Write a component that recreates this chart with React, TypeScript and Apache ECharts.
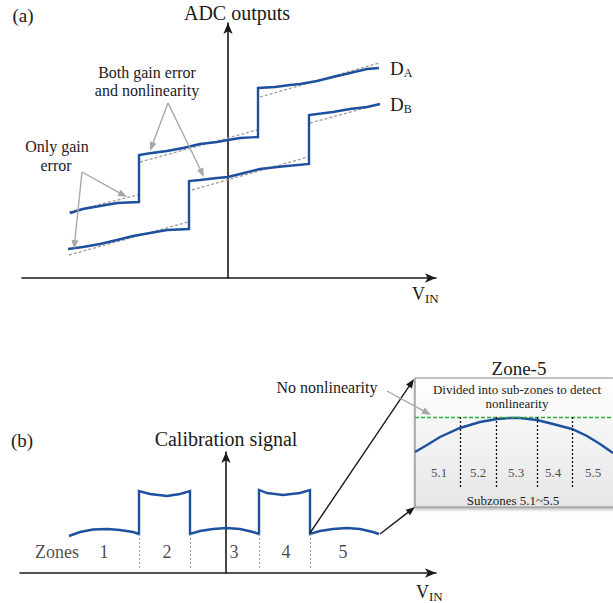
import React, { useEffect, useRef } from "react";
import * as echarts from "echarts";

type Pt = [number, number];

const SERIF = '"Liberation Serif", "Times New Roman", serif';
const INK = "#1a1a1a";
const BLUE = "#1e50a0";
const IDEAL_GRAY = "#9d9d9d";
const NOTE_GRAY = "#a8a8a8";

// (a) ADC transfer characteristics, V_IN = 0 on the vertical axis
const DA_OUTPUT: Pt[] = [
  [-158, 65], [-145, 69], [-128, 72], [-111, 75], [-89, 76],
  [-89, 123], [-78, 124.7], [-61, 127], [-45, 130], [-28, 134], [-11, 136], [0, 138], [12, 140], [30, 141],
  [30, 190], [47, 191], [62, 193], [72, 194], [89, 197], [105, 201], [122, 205], [139, 209], [151, 210],
];
const DB_OUTPUT: Pt[] = [
  [-160, 29], [-145, 31], [-128, 34], [-111, 38], [-95, 42], [-78, 45], [-61, 48], [-39, 49],
  [-39, 97], [-28, 98], [-11, 100], [0, 101], [12, 104], [32, 109], [49, 111], [81, 114],
  [81, 163], [105, 166], [122, 169], [139, 171], [152, 174],
];
// ideal (gain error only) segments
const DA_IDEAL: Pt[][] = [
  [[-159, 66], [-90, 83]],
  [[-88, 116], [29, 148]],
  [[32, 181], [151, 215]],
];
const DB_IDEAL: Pt[][] = [
  [[-159, 23], [-40, 56]],
  [[-36, 88], [80, 121]],
  [[82, 155], [152, 174]],
];

// (b) calibration signal across the five zones
const CAL_SIGNAL: Pt[] = [
  [-157, 37], [-146, 41], [-133, 43.5], [-119, 44], [-106, 43], [-93, 41], [-87, 39],
  [-87, 82], [-76, 79], [-59, 77], [-46, 79], [-36, 82],
  [-36, 39], [-26, 42], [-13, 44], [0, 45], [14, 44], [27, 41], [33, 39],
  [33, 83], [41, 80], [57, 78], [74, 80], [84, 83],
  [84, 39], [94, 42], [107, 44], [121, 45], [134, 44], [147, 41], [153, 39],
];
const ZONE_EDGES = [-87, -36, 33, 84];
const ZONE_NAMES = ["Zones", "1", "2", "3", "4", "5"];
const ZONE_NAME_X = [-169, -122, -59, 8, 60, 117];

// Zone-5 close-up
const ZONE5_SIGNAL: Pt[] = [
  [0, 55], [12, 62], [25, 70], [45, 79], [65, 85], [82, 88], [95, 89], [105, 89],
  [122, 87], [138, 83], [157, 78], [172, 71], [185, 63], [198, 54],
];
const NO_NONLINEARITY_LEVEL = 90;
const SUBZONE_EDGES = [45, 81, 122, 157];
const SUBZONE_NAMES = ["5.1", "5.2", "5.3", "5.4", "5.5"];
const SUBZONE_NAME_X = [24, 63, 101, 138, 178];

function arrow(x1: number, y1: number, x2: number, y2: number, color: string, width = 1.4, len = 9, half = 3.5) {
  const dx = x2 - x1;
  const dy = y2 - y1;
  const d = Math.hypot(dx, dy);
  const ux = dx / d;
  const uy = dy / d;
  const bx = x2 - ux * len;
  const by = y2 - uy * len;
  return [
    { type: "line", z: 100, shape: { x1, y1, x2: bx + ux, y2: by + uy }, style: { stroke: color, lineWidth: width } },
    {
      type: "polygon",
      z: 100,
      shape: { points: [[x2, y2], [bx - uy * half, by + ux * half], [bx + uy * half, by - ux * half]] },
      style: { fill: color },
    },
  ];
}

function label(text: string, x: number, y: number, size: number) {
  return {
    type: "text",
    z: 100,
    x,
    y,
    style: {
      text,
      fill: INK,
      fontSize: size,
      fontFamily: SERIF,
      align: "center",
      verticalAlign: "middle",
      textAlign: "center",
      textVerticalAlign: "middle",
    },
  };
}

function subscripted(main: string, sub: string, x: number, y: number, mainSize: number, subSize: number) {
  return {
    type: "text",
    z: 100,
    x,
    y,
    style: {
      text: `{m|${main}}{s|${sub}}`,
      fill: INK,
      align: "left",
      verticalAlign: "middle",
      textAlign: "left",
      textVerticalAlign: "middle",
      rich: {
        m: { fontSize: mainSize, fontFamily: SERIF, fill: INK, lineHeight: 22 },
        s: { fontSize: subSize, fontFamily: SERIF, fill: INK, lineHeight: 14, verticalAlign: "bottom" },
      },
    },
  };
}

const arrowAxis = (min: number, max: number) => ({
  type: "value",
  min,
  max,
  axisLine: {
    show: true,
    onZero: true,
    symbol: ["none", "arrow"],
    symbolSize: [7, 11],
    lineStyle: { color: INK, width: 1.6 },
  },
  axisTick: { show: false },
  axisLabel: { show: false },
  splitLine: { show: false },
});

const hiddenAxis = (min: number, max: number) => ({ type: "value", min, max, show: false });

const lineSeries = (data: Pt[], idx: number, lineStyle: Record<string, unknown>, z = 3) => ({
  type: "line",
  xAxisIndex: idx,
  yAxisIndex: idx,
  data,
  symbol: "none",
  silent: true,
  z,
  lineStyle,
});

const blueStyle = { color: BLUE, width: 2.4, join: "miter" };
const idealStyle = { color: IDEAL_GRAY, width: 1.3, type: [3, 2] };

export default function App() {
  const ref = useRef<HTMLDivElement>(null);

  useEffect(() => {
    if (!ref.current) return;
    const chart = echarts.init(ref.current, undefined, { renderer: "svg" });

    const option = {
      animation: false,
      backgroundColor: "#ffffff",
      grid: [
        { left: 22, top: 23, width: 414, height: 255 },
        { left: 20, top: 452, width: 416, height: 121 },
        { left: 415, top: 378, width: 198, height: 129 },
      ],
      xAxis: [
        { ...arrowAxis(-206, 208), gridIndex: 0 },
        { ...arrowAxis(-206, 210), gridIndex: 1 },
        { ...hiddenAxis(0, 198), gridIndex: 2 },
      ],
      yAxis: [
        { ...arrowAxis(0, 255), gridIndex: 0 },
        { ...arrowAxis(0, 121), gridIndex: 1 },
        { ...hiddenAxis(0, 129), gridIndex: 2 },
      ],
      series: [
        ...DA_IDEAL.map((seg) => lineSeries(seg, 0, idealStyle, 2)),
        ...DB_IDEAL.map((seg) => lineSeries(seg, 0, idealStyle, 2)),
        lineSeries(DA_OUTPUT, 0, blueStyle),
        lineSeries(DB_OUTPUT, 0, blueStyle),
        {
          ...lineSeries(CAL_SIGNAL, 1, blueStyle),
          markLine: {
            silent: true,
            symbol: ["none", "none"],
            label: { show: false },
            lineStyle: { color: "#a0a0a0", width: 1, type: [2, 2] },
            data: ZONE_EDGES.map((x) => [{ coord: [x, 39] }, { coord: [x, 4] }]),
          },
        },
        {
          type: "scatter",
          xAxisIndex: 1,
          yAxisIndex: 1,
          symbolSize: 0,
          silent: true,
          itemStyle: { color: "transparent" },
          data: ZONE_NAMES.map((n, i) => ({ name: n, value: [ZONE_NAME_X[i], 21] })),
          label: { show: true, position: "inside", formatter: "{b}", color: INK, fontSize: 18, fontFamily: SERIF },
          z: 5,
        },
        {
          ...lineSeries(ZONE5_SIGNAL, 2, blueStyle),
          markLine: {
            silent: true,
            symbol: ["none", "none"],
            label: { show: false },
            lineStyle: { color: "#111111", width: 1.3, type: [2, 2] },
            data: [
              { yAxis: NO_NONLINEARITY_LEVEL, lineStyle: { color: "#2fae3a", width: 1.3, type: [4, 2] } },
              ...SUBZONE_EDGES.map((x) => [{ coord: [x, NO_NONLINEARITY_LEVEL] }, { coord: [x, 19] }]),
            ],
          },
        },
        {
          type: "scatter",
          xAxisIndex: 2,
          yAxisIndex: 2,
          symbolSize: 0,
          silent: true,
          itemStyle: { color: "transparent" },
          data: SUBZONE_NAMES.map((n, i) => ({ name: n, value: [SUBZONE_NAME_X[i], 35] })),
          label: { show: true, position: "inside", formatter: "{b}", color: INK, fontSize: 13, fontFamily: SERIF },
          z: 5,
        },
      ],
      graphic: [
        // Zone-5 panel frame
        {
          type: "rect",
          z: 0,
          shape: { x: 415, y: 378, width: 200, height: 129 },
          style: {
            fill: new echarts.graphic.LinearGradient(0, 0, 0, 1, [
              { offset: 0, color: "#ffffff" },
              { offset: 1, color: "#e6e6e6" },
            ]),
            stroke: "#8a8a8a",
            lineWidth: 1.2,
            shadowBlur: 3,
            shadowOffsetY: 2,
            shadowColor: "rgba(0,0,0,0.3)",
          },
        },
        label("(a)", 23, 15, 19),
        label("ADC outputs", 237, 13, 20),
        label("Both gain error", 147, 72, 16),
        label("and nonlinearity", 147, 90.5, 16),
        label("Only gain", 57, 146.5, 16),
        label("error", 56, 165, 16),
        subscripted("D", "A", 390, 68, 19, 12),
        subscripted("D", "B", 390, 104, 19, 12),
        subscripted("V", "IN", 412, 294, 18, 13),
        ...arrow(168, 103, 150, 151, NOTE_GRAY),
        ...arrow(168, 103, 204, 177, NOTE_GRAY),
        ...arrow(82, 172, 127, 197, NOTE_GRAY),
        ...arrow(82, 172, 74, 249, NOTE_GRAY),

        label("(b)", 22, 440, 19),
        label("Calibration signal", 226, 439, 20),
        label("No nonlinearity", 327, 387, 16),
        label("Zone-5", 519, 368, 19),
        label("Divided into sub-zones to detect", 517, 389, 13),
        label("nonlinearity", 517, 403, 13),
        label("Subzones 5.1~5.5", 513, 500, 13),
        subscripted("V", "IN", 416, 592, 18, 13),
        ...arrow(310, 533, 414, 379, INK, 1.4),
        ...arrow(380, 534, 415, 507, INK, 1.4),
        ...arrow(387, 391, 431, 415, NOTE_GRAY),
      ],
    };

    chart.setOption(option as any);
    return () => chart.dispose();
  }, []);

  return <div ref={ref} style={{ position: "fixed", left: 0, top: 0, width: 613, height: 603 }} />;
}
